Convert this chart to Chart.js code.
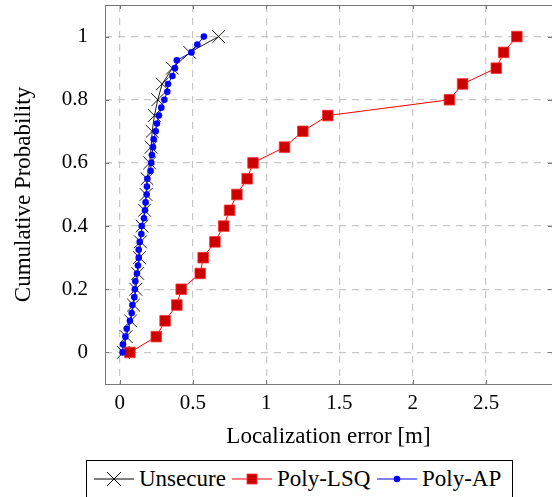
<!DOCTYPE html>
<html>
<head>
<meta charset="utf-8">
<script src="https://cdn.jsdelivr.net/npm/chart.js@4.4.0/dist/chart.umd.min.js"></script>
<style>
  body { margin: 0; background: #fff; width: 552px; height: 497px; overflow: hidden; position: relative; font-family: "Liberation Serif", serif; }
  #wrap { position: absolute; left: 0; top: 0; width: 552px; height: 455px; }
  #legend { position: absolute; left: 86px; top: 460px; width: 427px; height: 40px; border: 1px solid #000; box-sizing: border-box;
            font-size: 23px; color: #000; }
  #legend svg, #legend span { position: absolute; top: 0; }
  #legend svg { top: 8px; }
  #legend span { line-height: 36px; }
</style>
</head>
<body>
<div id="wrap"><canvas id="cdfChart" width="552" height="455"></canvas></div>
<div id="legend">
  <svg style="left:7px" width="40" height="20"><line x1="0" y1="10" x2="40" y2="10" stroke="#000" stroke-width="1"/><path d="M13 3 L27 17 M27 3 L13 17" stroke="#000" stroke-width="1"/></svg><span style="left:52px">Unsecure</span>
  <svg style="left:145px" width="40" height="20"><line x1="0" y1="10" x2="40" y2="10" stroke="#ff0000" stroke-width="1"/><rect x="15" y="5" width="10" height="10" fill="#cc0000" stroke="#ff3333" stroke-width="0.8"/></svg><span style="left:190px">Poly-LSQ</span>
  <svg style="left:290px" width="40" height="20"><line x1="0" y1="10" x2="40" y2="10" stroke="#0000ff" stroke-width="1"/><circle cx="20" cy="10" r="3.3" fill="#0000ff"/></svg><span style="left:335px">Poly-AP</span>
</div>
<script>
// localization error [m] vs cumulative probability
const unsecureErr = [0.025, 0.045, 0.075, 0.095, 0.11, 0.123, 0.135, 0.142, 0.153, 0.17, 0.18,
                     0.187, 0.205, 0.215, 0.222, 0.237, 0.26, 0.29, 0.36, 0.478, 0.675];
const unsecureProb = [0, 0.05, 0.1, 0.15, 0.2, 0.25, 0.3, 0.35, 0.4, 0.45, 0.5,
                      0.55, 0.6, 0.65, 0.7, 0.75, 0.8, 0.85, 0.9, 0.95, 1];

const lsqErr = [0.07, 0.25, 0.31, 0.39, 0.42, 0.55, 0.57, 0.65, 0.71, 0.75, 0.80,
                0.87, 0.91, 1.125, 1.25, 1.42, 2.25, 2.34, 2.57, 2.62, 2.71];
const lsqProb = [0, 0.05, 0.1, 0.15, 0.2, 0.25, 0.3, 0.35, 0.4, 0.45, 0.5,
                 0.55, 0.6, 0.65, 0.7, 0.75, 0.8, 0.85, 0.9, 0.95, 1];

const apErr = [0.02, 0.023, 0.039, 0.048, 0.07, 0.082, 0.087, 0.10, 0.104, 0.107, 0.118,
               0.125, 0.13, 0.13, 0.137, 0.148, 0.15, 0.166, 0.173, 0.177, 0.184,
               0.186, 0.189, 0.211, 0.216, 0.22, 0.227, 0.232, 0.246, 0.254, 0.268,
               0.284, 0.305, 0.325, 0.33, 0.36, 0.377, 0.39, 0.49, 0.53, 0.575];
const apProb = [0, 0.025, 0.05, 0.075, 0.1, 0.125, 0.15, 0.175, 0.2, 0.225, 0.25,
                0.275, 0.3, 0.325, 0.35, 0.375, 0.4, 0.425, 0.45, 0.475, 0.5,
                0.525, 0.55, 0.575, 0.6, 0.625, 0.65, 0.675, 0.7, 0.725, 0.75,
                0.775, 0.8, 0.825, 0.85, 0.875, 0.9, 0.925, 0.95, 0.975, 1];

const xTicks = [0, 0.5, 1, 1.5, 2, 2.5];
const yTicks = [0, 0.2, 0.4, 0.6, 0.8, 1];

const toPoints = (xs, ys) => xs.map((x, i) => ({ x: x, y: ys[i] }));

// box round the plot with small inward tick marks, like pgfplots
const framePlugin = {
    id: 'frame',
    afterDatasetsDraw(chart) {
        const { ctx, chartArea: a, scales } = chart;
        ctx.save();
        ctx.strokeStyle = '#777';
        ctx.lineWidth = 1;
        ctx.strokeRect(a.left + 0.5, a.top + 0.5, a.right - a.left, a.bottom - a.top);
        ctx.beginPath();
        xTicks.forEach(v => {
            const px = Math.round(scales.x.getPixelForValue(v)) + 0.5;
            ctx.moveTo(px, a.bottom); ctx.lineTo(px, a.bottom - 4);
            ctx.moveTo(px, a.top); ctx.lineTo(px, a.top + 4);
        });
        yTicks.forEach(v => {
            const py = Math.round(scales.y.getPixelForValue(v)) + 0.5;
            ctx.moveTo(a.left, py); ctx.lineTo(a.left + 4, py);
            ctx.moveTo(a.right, py); ctx.lineTo(a.right - 4, py);
        });
        ctx.stroke();
        ctx.restore();
    }
};

const serif = '"Liberation Serif", serif';
const gridStyle = { color: '#c8c8c8', lineWidth: 1.2, drawTicks: false };

const chart = new Chart(document.getElementById('cdfChart').getContext('2d'), {
    type: 'scatter',
    data: {
        datasets: [
            {
                label: 'Unsecure',
                data: toPoints(unsecureErr, unsecureProb),
                showLine: true,
                borderColor: '#000',
                borderWidth: 0.9,
                pointStyle: 'crossRot',
                pointRadius: 9,
                pointBorderWidth: 0.9,
                pointBorderColor: '#000',
                order: 3
            },
            {
                label: 'Poly-LSQ',
                data: toPoints(lsqErr, lsqProb),
                showLine: true,
                borderColor: '#ff0000',
                borderWidth: 1,
                pointStyle: 'rect',
                pointRadius: 7.5,
                pointBackgroundColor: '#cc0000',
                pointBorderColor: '#ff3333',
                pointBorderWidth: 0.8,
                order: 2
            },
            {
                label: 'Poly-AP',
                data: toPoints(apErr, apProb),
                showLine: true,
                borderColor: '#0000ff',
                borderWidth: 1,
                pointStyle: 'circle',
                pointRadius: 3.3,
                pointBackgroundColor: '#0000ff',
                pointBorderColor: '#0000ff',
                pointBorderWidth: 0,
                order: 1
            }
        ]
    },
    options: {
        responsive: false,
        animation: false,
        layout: { autoPadding: false, padding: { top: 5, right: 0, left: 0, bottom: 0 } },
        plugins: { legend: { display: false }, tooltip: { enabled: false } },
        scales: {
            x: {
                type: 'linear',
                min: -0.1, max: 2.95,
                afterBuildTicks: s => { s.ticks = xTicks.map(v => ({ value: v })); },
                afterFit: s => { s.height = 71; s.paddingLeft = 0; s.paddingRight = 0; },
                ticks: { color: '#000', font: { family: serif, size: 21 }, padding: 7,
                         callback: v => String(Math.round(v * 10) / 10) },
                grid: Object.assign({}, gridStyle),
                border: { display: false, dash: [7, 6] },
                title: { display: true, text: 'Localization error [m]', color: '#000',
                         font: { family: serif, size: 23 }, padding: { top: 0, bottom: 4 } }
            },
            y: {
                type: 'linear',
                min: -0.1, max: 1.1,
                afterBuildTicks: s => { s.ticks = yTicks.map(v => ({ value: v })); },
                afterFit: s => { s.width = 105; s.paddingTop = 0; s.paddingBottom = 0; },
                ticks: { color: '#000', font: { family: serif, size: 21 }, padding: 17,
                         callback: v => String(Math.round(v * 10) / 10) },
                grid: gridStyle,
                border: { display: false, dash: [7, 6] },
                title: { display: true, text: 'Cumulative Probability', color: '#000',
                         font: { family: serif, size: 23 }, padding: { top: 10, bottom: 0 } }
            }
        }
    },
    plugins: [framePlugin]
});
</script>
</body>
</html>
